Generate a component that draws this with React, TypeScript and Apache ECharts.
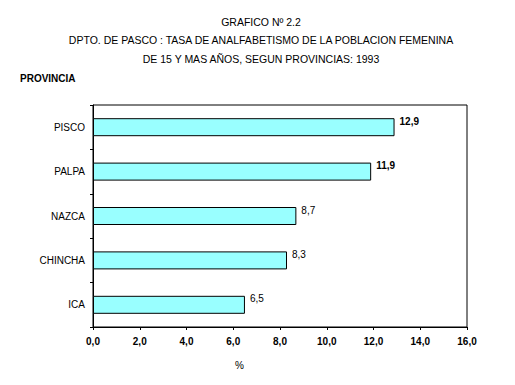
import React, { useEffect, useRef } from "react";
import * as echarts from "echarts";

const titleLines = [
  "GRAFICO Nº 2.2",
  "DPTO. DE PASCO : TASA DE ANALFABETISMO DE LA POBLACION FEMENINA",
  "DE 15 Y MAS AÑOS, SEGUN PROVINCIAS: 1993",
];
const categories = ["ICA", "CHINCHA", "NAZCA", "PALPA", "PISCO"];
const values = [6.5, 8.3, 8.7, 11.9, 12.9];
const boldLabels = [false, false, false, true, true];
const xMin = 0;
const xMax = 16;
const xInterval = 2;

const fmt = (v: number) => v.toFixed(1).replace(".", ",");
const FONT = "Liberation Sans, Arial, sans-serif";

export default function App() {
  const ref = useRef<HTMLDivElement>(null);
  useEffect(() => {
    document.body.style.margin = "0";
    const chart = echarts.init(ref.current!, undefined, { renderer: "svg" });
    chart.setOption({
      animation: false,
      backgroundColor: "#fff",
      textStyle: { fontFamily: FONT },
      title: titleLines.map((t, i) => ({
        text: t,
        left: 256,
        top: 11 + i * 18.5,
        textAlign: "center",
        textStyle: { fontSize: 10.5, fontWeight: "normal", color: "#000", fontFamily: FONT },
      })),
      graphic: [
        {
          type: "text",
          left: 20,
          top: 73,
          style: { text: "PROVINCIA", font: `bold 10px ${FONT}`, fill: "#000" },
        },
        {
          type: "text",
          left: 235,
          top: 360,
          style: { text: "%", font: `normal 10px ${FONT}`, fill: "#000" },
        },
      ],
      grid: {
        left: 93,
        right: 48,
        top: 105,
        bottom: 58,
        show: true,
        borderColor: "#000",
        borderWidth: 1,
        backgroundColor: "transparent",
      },
      xAxis: {
        type: "value",
        min: xMin,
        max: xMax,
        interval: xInterval,
        splitLine: { show: false },
        axisLine: { show: true, lineStyle: { color: "#000", width: 1 } },
        axisTick: { show: true, length: 3, lineStyle: { color: "#000" } },
        axisLabel: {
          color: "#000",
          fontSize: 10,
          fontWeight: "bold",
          margin: 9,
          formatter: (v: number) => fmt(v),
        },
      },
      yAxis: {
        type: "category",
        data: categories,
        axisLine: { show: true, lineStyle: { color: "#000", width: 1 } },
        axisTick: { show: true, length: 3, lineStyle: { color: "#000" } },
        axisLabel: { color: "#000", fontSize: 10, margin: 8 },
      },
      series: [
        {
          type: "bar",
          barWidth: 18,
          data: values.map((v, i) => ({
            value: v,
            label: {
              show: true,
              position: "right",
              distance: 5,
              offset: [0, -6],
              color: "#000",
              fontSize: 10,
              fontWeight: boldLabels[i] ? "bold" : "normal",
              formatter: (p: any) => fmt(p.value),
            },
          })),
          itemStyle: { color: "#99ffff", borderColor: "#000", borderWidth: 1 },
        },
      ],
    });
    return () => chart.dispose();
  }, []);
  return <div ref={ref} style={{ width: 515, height: 385 }} />;
}
